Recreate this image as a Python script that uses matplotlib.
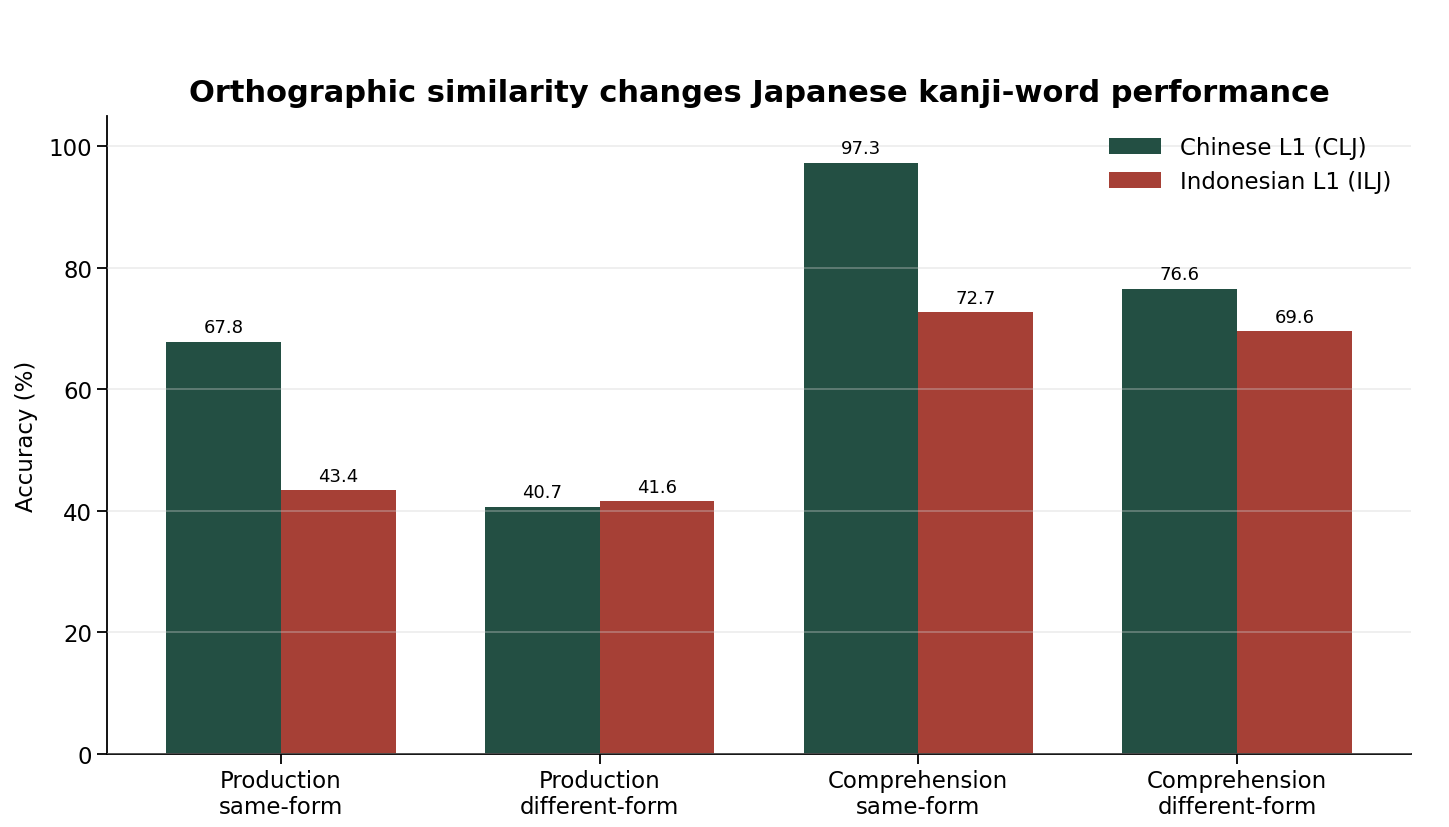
import numpy as np
import matplotlib
matplotlib.use("Agg")
from matplotlib import pyplot as plt

# Daten
categories = ["Production\nsame-form", "Production\ndifferent-form",
              "Comprehension\nsame-form", "Comprehension\ndifferent-form"]
clj_values = [67.8, 40.7, 97.3, 76.6]
ilj_values = [43.4, 41.6, 72.7, 69.6]
series_names = ["Chinese L1 (CLJ)", "Indonesian L1 (ILJ)"]

green = "#234F43"
red = "#A64036"

fig = plt.figure(figsize=(14.49, 8.28), dpi=100)
ax = fig.add_axes([0.0738, 0.0882, 0.9, 0.7705])

x = np.arange(len(categories))
width = 0.36

b1 = ax.bar(x - width / 2, clj_values, width, color=green, label=series_names[0])
b2 = ax.bar(x + width / 2, ilj_values, width, color=red, label=series_names[1])

for bars, vals in ((b1, clj_values), (b2, ilj_values)):
    for rect, v in zip(bars, vals):
        ax.annotate(f"{v:.1f}", (rect.get_x() + rect.get_width() / 2, v),
                    xytext=(0, 4), textcoords="offset points",
                    ha="center", va="bottom", fontsize=13)

ax.set_ylim(0, 105)
ax.set_yticks([0, 20, 40, 60, 80, 100])
ax.set_xticks(x)
ax.set_xticklabels(categories, fontsize=16.5)
ax.tick_params(axis="y", labelsize=16.5)
ax.tick_params(axis="both", length=7, width=1.3)
ax.set_ylabel("Accuracy (%)", fontsize=16.5, labelpad=8)
ax.set_title("Orthographic similarity changes Japanese kanji-word performance",
             fontsize=22, fontweight="bold", pad=11)

ax.grid(axis="y", color="#d0d0d0", alpha=0.4, linewidth=1.2)
ax.set_axisbelow(False)
for s in ["top", "right"]:
    ax.spines[s].set_visible(False)
for s in ["left", "bottom"]:
    ax.spines[s].set_linewidth(1.3)

ax.legend(loc="upper right", frameon=False, fontsize=16.5,
          handlelength=2.3, borderaxespad=0.3, bbox_to_anchor=(0.997, 0.994))

plt.savefig("out.png", dpi=100)
